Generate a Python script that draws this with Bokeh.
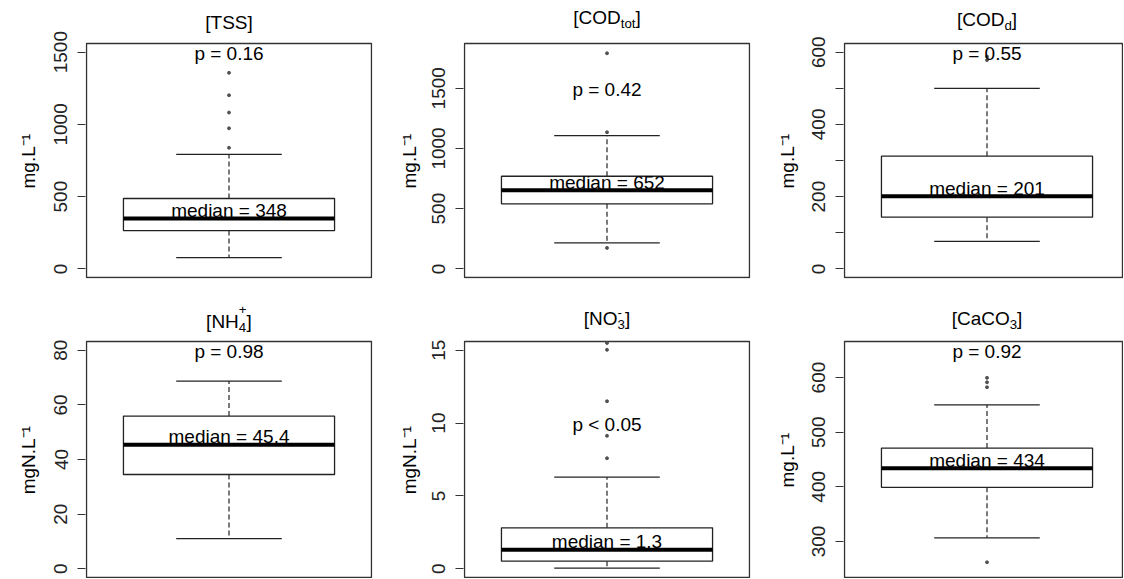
import math
from bokeh.plotting import figure
from bokeh.models import FixedTicker, Range1d, Title
from bokeh.layouts import row, column
from bokeh.embed import file_html
from bokeh.resources import INLINE
from bokeh.core.properties import value

# ---------------- data ----------------
q1 = [265, 540, 143, 34.5, 0.52, 399]
medians = [348, 652, 201, 45.4, 1.3, 434]
q3 = [487, 769, 312, 55.9, 2.81, 471]
lower_whisker = [78, 216, 76, 11.0, 0.05, 306.6]
upper_whisker = [793, 1107, 500, 68.7, 6.29, 550]
outliers = [
    [838, 973, 1082, 1202, 1357],
    [174, 1135, 1791],
    [578, 588],
    [],
    [7.59, 9.13, 11.5, 15.03, 15.5],
    [261.9, 582.3, 591.4, 599.5],
]
median_labels = ["median = 348", "median = 652", "median = 201",
                 "median = 45.4", "median = 1.3", "median = 434"]
p_labels = ["p = 0.16", "p = 0.42", "p = 0.55", "p = 0.98", "p < 0.05", "p = 0.92"]
p_label_y = [1500, 1500, 600, 80, 10, 650]
ylims = [(0, 1500), (0, 1800), (0, 600), (0, 80), (0, 15), (250, 650)]
major_ticks = [[0, 500, 1000, 1500], [0, 500, 1000, 1500], [0, 200, 400, 600],
               [0, 20, 40, 60, 80], [0, 5, 10, 15], [300, 400, 500, 600]]
minor_ticks = [[], [], [100, 300, 500], [], [], []]
y_titles = ["mg.L\u207b\u00b9", "mg.L\u207b\u00b9", "mg.L\u207b\u00b9",
            "mgN.L\u207b\u00b9", "mgN.L\u207b\u00b9", "mg.L\u207b\u00b9"]
# title pieces: (text, role)  role: main / sub / sup (sup stacked over previous sub)
titles = [
    [("[TSS]", "main")],
    [("[COD", "main"), ("tot", "sub"), ("]", "main")],
    [("[COD", "main"), ("d", "sub"), ("]", "main")],
    [("[NH", "main"), ("4", "sub"), ("+", "sup"), ("]", "main")],
    [("[NO", "main"), ("3", "sub"), ("-", "sup"), ("]", "main")],
    [("[CaCO", "main"), ("3", "sub"), ("]", "main")],
]

# ---------------- styling / layout ----------------
FONT = "Liberation Sans"
FS = 19
FS_SMALL = 13.3
INK = "#222222"
ARIAL = {'[': 278, ']': 278, 'T': 611, 'S': 667, 'C': 722, 'O': 778, 'D': 722,
         'N': 722, 'H': 722, 'a': 556, 't': 278, 'o': 556, 'd': 556, '3': 556,
         '4': 556, '+': 584, '-': 333, 'm': 833, 'g': 556, '.': 278, 'L': 556,
         '1': 556, '\u207b': 600, '\u00b9': 333}


def tw(s, fs):
    return sum(ARIAL.get(c, 556) for c in s) / 1000.0 * fs


MID = 0.3465                                  # em-box middle above baseline
title_rise = [14.7, 19, 17, 13.7, 16, 16]     # main baseline above box top (px)
sup_center = {3: 18.8, 4: 13.3}               # sup centre above main baseline
SUB_DROP = 4.0

PX_PER_X = 285 / 1.08
lefts = [85, 85, 87]
rights = [6, 6, 0]
frame_ws = [287, 287, 280]
above_box = [43, 51]               # frame space above the box for titles
box_hs = [234, 236]
bottoms = [12, 0]
ylab_standoff = [26, 20, 24]


def make_panel(i):
    r, c = divmod(i, 3)
    lo, hi = ylims[i]
    pad = 0.04 * (hi - lo)
    ytop, ybot = hi + pad, lo - pad
    ppy = box_hs[r] / (ytop - ybot)
    one_x = 1.0 / PX_PER_X
    x_start = 0.46 - one_x
    x_end = x_start + frame_ws[c] / PX_PER_X
    fh = above_box[r] + box_hs[r] + 1
    p = figure(width=lefts[c] + frame_ws[c] + rights[c], height=fh + bottoms[r],
               title=None,
               x_range=Range1d(x_start, x_end),
               y_range=Range1d(ybot - 1 / ppy, ytop + above_box[r] / ppy),
               x_axis_location=None, output_backend="svg", toolbar_location=None,
               min_border_left=lefts[c], min_border_right=rights[c],
               min_border_top=0, min_border_bottom=bottoms[r],
               background_fill_color="white", border_fill_color="white")
    p.outline_line_color = None
    p.grid.visible = False

    ax = p.yaxis[0]
    ax.ticker = FixedTicker(ticks=major_ticks[i], minor_ticks=minor_ticks[i])
    ax.axis_line_color = None
    ax.major_tick_in = 0
    ax.major_tick_out = 8
    ax.minor_tick_in = 0
    ax.minor_tick_out = 8
    ax.major_tick_line_color = "#333333"
    ax.minor_tick_line_color = "#333333"
    ax.major_tick_line_width = 1.2
    ax.minor_tick_line_width = 1.2
    ax.major_label_orientation = "vertical"
    ax.major_label_standoff = 10
    ax.major_label_text_font = FONT
    ax.major_label_text_font_size = "19px"
    ax.major_label_text_color = INK

    # plot box (R's plotting region)
    box_right = min(1.54, x_end - one_x)
    p.quad(left=[0.46], right=[box_right], bottom=[ybot], top=[ytop],
           fill_color=None, line_color="#333333", line_width=1.4)

    # whiskers
    p.segment(x0=[1, 1], y0=[q3[i], q1[i]], x1=[1, 1],
              y1=[upper_whisker[i], lower_whisker[i]],
              line_color=INK, line_width=1.2, line_dash="5 3")
    p.segment(x0=[0.8, 0.8], y0=[upper_whisker[i], lower_whisker[i]],
              x1=[1.2, 1.2], y1=[upper_whisker[i], lower_whisker[i]],
              line_color=INK, line_width=1.3)
    # box
    p.quad(left=[0.6], right=[1.4], bottom=[q1[i]], top=[q3[i]],
           fill_color="white", line_color=INK, line_width=1.3)
    p.segment(x0=[0.6], y0=[medians[i]], x1=[1.4], y1=[medians[i]],
              line_color="black", line_width=4)
    # outliers
    if outliers[i]:
        p.scatter(x=[1] * len(outliers[i]), y=outliers[i], marker="circle", size=3,
                  fill_color="#555555", line_color="#444444", line_width=0.8)
    # texts
    p.text(x=[1], y=[p_label_y[i]], text=[p_labels[i]], text_align="center",
           text_baseline="middle", y_offset=1, text_font=value(FONT),
           text_font_size="19px", text_color="black")
    p.text(x=[1], y=[medians[i]], text=[median_labels[i]], text_align="center",
           text_baseline="middle", y_offset=-8, text_font=value(FONT),
           text_font_size="19px", text_color="black")

    # title (composite for sub/superscripts), drawn above the R box
    pieces = titles[i]
    total = 0.0
    advs = []
    k = 0
    while k < len(pieces):
        t, role = pieces[k]
        fs = FS if role == "main" else FS_SMALL
        w = tw(t, fs)
        if k + 1 < len(pieces) and pieces[k + 1][1] == "sup":
            w = max(w, tw(pieces[k + 1][0], FS_SMALL))
            advs.append((k, w, 2))
            k += 2
        else:
            advs.append((k, w, 1))
            k += 1
        total += w
    x_cur = -total / 2
    base = title_rise[i]
    for k, w, n in advs:
        for j in range(k, k + n):
            t, role = pieces[j]
            if role == "main":
                up, fs = base + MID * FS, FS
            elif role == "sub":
                up, fs = base - SUB_DROP + MID * FS_SMALL, FS_SMALL
            else:
                up, fs = base + sup_center.get(i, 14), FS_SMALL
            p.text(x=[1], y=[ytop], text=[t], x_offset=x_cur, y_offset=-up,
                   text_align="left", text_baseline="middle",
                   text_font=value(FONT), text_font_size=f"{fs}px",
                   text_color="black")
        x_cur += w

    # y axis title (left side panel), centred on the R box
    wy = tw(y_titles[i], FS) - 4
    off = (box_hs[r] / 2 + 1) - wy / 2
    p.add_layout(Title(text=y_titles[i], align="left", offset=off,
                       vertical_align="bottom", standoff=ylab_standoff[c],
                       text_font=FONT, text_font_size="19px",
                       text_font_style="normal", text_color="black"), "left")
    return p


figs = [make_panel(i) for i in range(6)]
layout = column(row(*figs[:3]), row(*figs[3:]))
open("out.html", "w").write(file_html(layout, INLINE))
